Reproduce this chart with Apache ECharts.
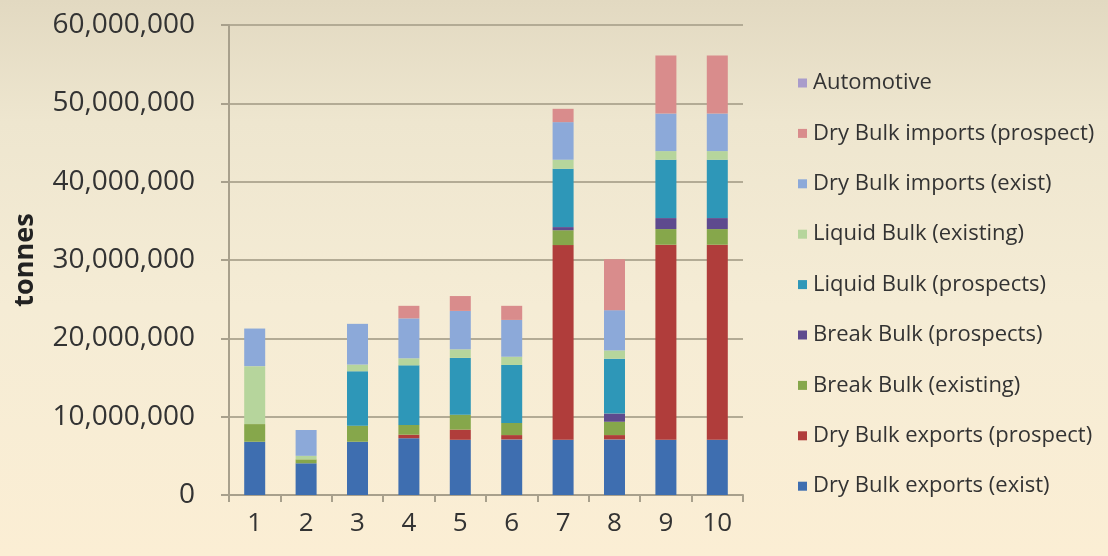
<!DOCTYPE html>
<html>
<head>
<meta charset="utf-8">
<script src="https://cdn.jsdelivr.net/npm/echarts@6/dist/echarts.min.js"></script>
<style>
  html, body { margin: 0; padding: 0; }
  body { width: 1108px; height: 556px; background: linear-gradient(180deg, #e2d9c1 0%, #eee6cf 22%, #f5ecd5 55%, #fbeed4 100%); }
  #chart { width: 1108px; height: 556px; }
</style>
</head>
<body>
<div id="chart"></div>
<script>
// Categories (scenarios 1..10)
const categories = ['1', '2', '3', '4', '5', '6', '7', '8', '9', '10'];

// Tonnage per cargo type, stacked bottom to top
const dryBulkExportsExist    = [6800000, 4050000, 6800000, 7250000, 7050000, 7100000, 7050000, 7100000, 7050000, 7050000];
const dryBulkExportsProspect = [0, 0, 0, 450000, 1300000, 550000, 24850000, 550000, 24900000, 24900000];
const breakBulkExisting      = [2250000, 500000, 2050000, 1250000, 1900000, 1550000, 1900000, 1700000, 2000000, 2000000];
const breakBulkProspects     = [0, 0, 0, 0, 0, 0, 400000, 1050000, 1400000, 1400000];
const liquidBulkProspects    = [0, 0, 6950000, 7600000, 7250000, 7400000, 7450000, 7000000, 7450000, 7450000];
const liquidBulkExisting     = [7400000, 450000, 850000, 900000, 1100000, 1050000, 1150000, 1050000, 1100000, 1100000];
const dryBulkImportsExist    = [4800000, 3300000, 5200000, 5100000, 4900000, 4700000, 4800000, 5150000, 4800000, 4800000];
const dryBulkImportsProspect = [0, 0, 0, 1600000, 1900000, 1800000, 1700000, 6500000, 7400000, 7400000];
const automotive             = [0, 0, 0, 0, 0, 0, 0, 0, 0, 0];

// Axis ticks
const yMin = 0, yMax = 60000000, yStep = 10000000;

const seriesDefs = [
  { name: 'Dry Bulk exports (exist)',    data: dryBulkExportsExist,    color: '#3e6eb0' },
  { name: 'Dry Bulk exports (prospect)', data: dryBulkExportsProspect, color: '#b03d3b' },
  { name: 'Break Bulk (existing)',       data: breakBulkExisting,      color: '#86a74b' },
  { name: 'Break Bulk (prospects)',      data: breakBulkProspects,     color: '#5e4a8e' },
  { name: 'Liquid Bulk (prospects)',     data: liquidBulkProspects,    color: '#2e97b8' },
  { name: 'Liquid Bulk (existing)',      data: liquidBulkExisting,     color: '#b6d59c' },
  { name: 'Dry Bulk imports (exist)',    data: dryBulkImportsExist,    color: '#8ca9d9' },
  { name: 'Dry Bulk imports (prospect)', data: dryBulkImportsProspect, color: '#d98c8c' },
  { name: 'Automotive',                  data: automotive,             color: '#a99ccb' }
];

const FONT = 'Open Sans';
const chart = echarts.init(document.getElementById('chart'), null, { renderer: 'canvas' });

chart.setOption({
  backgroundColor: 'transparent',
  animation: false,
  grid: { left: 229, right: 365, top: 25, bottom: 61, containLabel: false },
  legend: {
    orient: 'vertical',
    left: 793,
    top: 67,
    itemWidth: 9,
    itemHeight: 9,
    itemGap: 28.4,
    icon: 'rect',
    data: seriesDefs.map(s => s.name).reverse(),
    textStyle: { fontFamily: FONT, fontSize: 22, color: '#333', padding: [0, 0, 0, 1] }
  },
  xAxis: {
    type: 'category',
    data: categories,
    axisLine: { show: true, lineStyle: { color: '#a8a08c', width: 2 } },
    axisTick: { show: true, alignWithLabel: false, length: 7, lineStyle: { color: '#a8a08c', width: 2 } },
    axisLabel: { fontFamily: FONT, fontSize: 26, color: '#333', margin: 16 }
  },
  yAxis: {
    type: 'value',
    min: yMin,
    max: yMax,
    interval: yStep,
    name: 'tonnes',
    nameLocation: 'middle',
    nameGap: 190,
    nameRotate: 90,
    nameTextStyle: { fontFamily: FONT, fontSize: 27, fontWeight: 'bold', color: '#222' },
    axisLine: { show: true, lineStyle: { color: '#a8a08c', width: 2 } },
    axisTick: { show: true, length: 8, lineStyle: { color: '#a8a08c', width: 2 } },
    splitLine: { show: true, lineStyle: { color: '#b3ab95', width: 2 } },
    axisLabel: {
      fontFamily: FONT, fontSize: 28, color: '#333', margin: 34,
      formatter: v => v.toLocaleString('en-US')
    }
  },
  series: seriesDefs.map(s => ({
    name: s.name,
    type: 'bar',
    stack: 'total',
    data: s.data,
    barWidth: 21,
    itemStyle: { color: s.color },
    emphasis: { disabled: true }
  }))
});
</script>
</body>
</html>
